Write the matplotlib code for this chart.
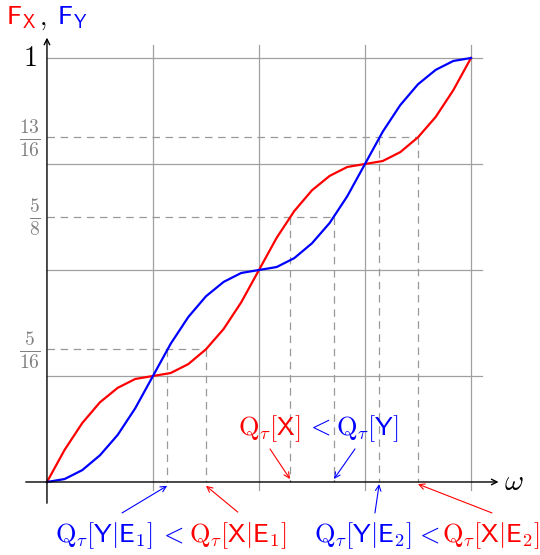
import matplotlib
matplotlib.use("Agg")
import matplotlib.pyplot as plt
from matplotlib.offsetbox import TextArea, HPacker, AnnotationBbox, DrawingArea

plt.rcParams['mathtext.fontset'] = 'cm'

# omega values (polyline nodes, 6 per unit)
omega = [0, 0.167, 0.333, 0.5, 0.667, 0.833,
         1, 1.167, 1.333, 1.5, 1.667, 1.833,
         2, 2.167, 2.333, 2.5, 2.667, 2.833,
         3, 3.167, 3.333, 3.5, 3.667, 3.833, 4]
# F_X (red) and F_Y (blue)
F_X = [0, 0.076, 0.139, 0.188, 0.222, 0.243,
       0.25, 0.257, 0.278, 0.313, 0.361, 0.424,
       0.5, 0.576, 0.639, 0.688, 0.722, 0.743,
       0.75, 0.757, 0.778, 0.813, 0.861, 0.924, 1.0]
F_Y = [0, 0.007, 0.028, 0.063, 0.111, 0.174,
       0.25, 0.326, 0.389, 0.438, 0.472, 0.493,
       0.5, 0.507, 0.528, 0.563, 0.611, 0.674,
       0.75, 0.826, 0.889, 0.938, 0.972, 0.993, 1.0]

grid_x = [1, 2, 3, 4]
grid_y = [0.25, 0.5, 0.75, 1.0]

# quantile levels tau and the matching quantiles of Y (blue) and X (red)
tau_levels = [5/16, 5/8, 13/16]
tau_labels = [r'$\frac{5}{16}$', r'$\frac{5}{8}$', r'$\frac{13}{16}$']
q_Y = [1.134, 2.707, 3.134]
q_X = [1.5, 2.293, 3.5]

RED = '#ff0000'
BLUE = '#0000ff'
GRID = '#a0a0a0'
DASH = '#999999'

fig = plt.figure(figsize=(5.4, 5.55), dpi=100)
ax = fig.add_axes([0, 0, 1, 1])
ax.set_xlim(-0.443, 4.651)
ax.set_ylim(-0.1722, 1.1368)
ax.axis('off')

# grid
for gx in grid_x:
    ax.plot([gx, gx], [-0.02, 1.03], color=GRID, lw=0.9, zorder=1)
for gy in grid_y:
    ax.plot([0, 4.1], [gy, gy], color=GRID, lw=0.9, zorder=1)

# dashed quantile helpers
for t, qy, qx in zip(tau_levels, q_Y, q_X):
    ax.plot([0, max(qy, qx)], [t, t], color=DASH, lw=0.9, ls=(0, (6, 4.5)), zorder=2)
    ax.plot([qy, qy], [t, 0], color=DASH, lw=0.9, ls=(0, (6, 4.5)), zorder=2)
    ax.plot([qx, qx], [t, 0], color=DASH, lw=0.9, ls=(0, (6, 4.5)), zorder=2)

# curves
ax.plot(omega, F_X, color=RED, lw=1.6, zorder=4)
ax.plot(omega, F_Y, color=BLUE, lw=1.6, zorder=4)

# axes with arrows
ax.annotate('', xy=(4.26, 0), xytext=(-0.2, 0),
            arrowprops=dict(arrowstyle='->', lw=1.0, color='black', shrinkA=0, shrinkB=0), zorder=5)
ax.annotate('', xy=(0, 1.048), xytext=(0, -0.05),
            arrowprops=dict(arrowstyle='->', lw=1.0, color='black', shrinkA=0, shrinkB=0), zorder=5)
ax.text(4.31, 0.0, r'$\omega$', fontsize=21, ha='left', va='center')

# y tick labels
ax.text(-0.10, 1.0, r'$1$', fontsize=20, ha='right', va='center', color='black')
for t, lab in zip(tau_levels, tau_labels):
    ax.text(-0.06, t, lab, fontsize=20, ha='right', va='center', color='#808080')


def colored(parts, xy, size=15, sep=3):
    boxes = []
    for s, c in parts:
        if s is None:
            boxes.append(DrawingArea(c, 1))  # plain horizontal gap
        else:
            boxes.append(TextArea(s, textprops=dict(color=c, size=size)))
    pack = HPacker(children=boxes, align='baseline', pad=0, sep=sep)
    ab = AnnotationBbox(pack, xy, frameon=False, box_alignment=(0.5, 0.5), pad=0)
    ax.add_artist(ab)


# header
colored([(r'$\mathsf{F}_\mathsf{X}$', RED), (r'$,$', 'black'), (None, 4),
         (r'$\mathsf{F}_\mathsf{Y}$', BLUE)],
        (0.0, 1.093), size=19, sep=2)

colored([(r'$\mathrm{Q}_\tau[\mathsf{X}]$', RED), (r'$<$', BLUE),
         (r'$\mathrm{Q}_\tau[\mathsf{Y}]$', BLUE)], (2.557, 0.127), size=19, sep=4)
colored([(r'$\mathrm{Q}_\tau[\mathsf{Y}|\mathsf{E}_1]$', BLUE), (r'$<$', BLUE),
         (r'$\mathrm{Q}_\tau[\mathsf{X}|\mathsf{E}_1]$', RED)], (1.17, -0.127), size=19, sep=4)
colored([(r'$\mathrm{Q}_\tau[\mathsf{Y}|\mathsf{E}_2]$', BLUE), (r'$<$', BLUE),
         (r'$\mathrm{Q}_\tau[\mathsf{X}|\mathsf{E}_2]$', RED)], (3.585, -0.127), size=19, sep=2)

# pointer arrows
arrows = [((2.104, 0.078), (q_X[1], 0.007), RED),
          ((2.906, 0.078), (q_Y[1], 0.007), BLUE),
          ((0.708, -0.073), (q_Y[0], -0.009), BLUE),
          ((1.80, -0.071), (q_X[0], -0.009), RED),
          ((3.094, -0.073), (q_Y[2], -0.005), BLUE),
          ((4.198, -0.073), (q_X[2], -0.005), RED)]
for start, end, c in arrows:
    ax.annotate('', xy=end, xytext=start,
                arrowprops=dict(arrowstyle='->', lw=0.8, color=c, shrinkA=0, shrinkB=0), zorder=6)

fig.savefig('out.png', dpi=100)
